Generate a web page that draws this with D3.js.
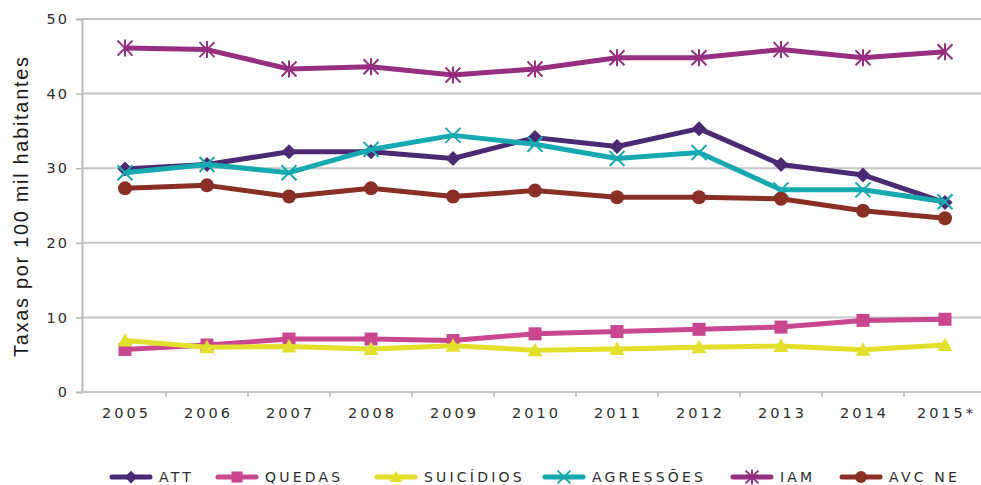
<!DOCTYPE html>
<html>
<head>
<meta charset="utf-8">
<script src="https://cdn.jsdelivr.net/npm/d3@7"></script>
<style>
  html, body { margin: 0; padding: 0; background: #fff; }
  svg { display: block; }
  .tick text, .legend text { font-family: "DejaVu Sans", sans-serif; fill: #2e2e2e; }
</style>
</head>
<body>
<svg id="chart" width="981" height="485"></svg>
<script>
// Anos e séries (taxas por 100 mil habitantes)
const years = ["2005","2006","2007","2008","2009","2010","2011","2012","2013","2014","2015*"];
const yTicks = [0, 10, 20, 30, 40, 50];

const att       = [29.9, 30.5, 32.2, 32.2, 31.3, 34.1, 32.9, 35.3, 30.5, 29.1, 25.4];
const quedas    = [5.7, 6.3, 7.1, 7.1, 6.9, 7.8, 8.1, 8.4, 8.7, 9.6, 9.75];
const suicidios = [6.9, 6.0, 6.1, 5.75, 6.2, 5.6, 5.75, 6.0, 6.15, 5.65, 6.3];
const agressoes = [29.4, 30.5, 29.4, 32.5, 34.4, 33.2, 31.3, 32.1, 27.1, 27.1, 25.5];
const iam       = [46.1, 45.9, 43.3, 43.6, 42.5, 43.3, 44.8, 44.8, 45.9, 44.8, 45.6];
const avcne     = [27.3, 27.7, 26.2, 27.3, 26.2, 27.0, 26.1, 26.1, 25.9, 24.3, 23.3];

const series = [
  { name: "ATT",        values: att,       color: "#4b2a73", marker: "diamond" },
  { name: "QUEDAS",     values: quedas,    color: "#c9478f", marker: "square" },
  { name: "SUICÍDIOS",  values: suicidios, color: "#e2e02c", marker: "triangle" },
  { name: "AGRESSÕES",  values: agressoes, color: "#16a9b0", marker: "x" },
  { name: "IAM",        values: iam,       color: "#962f80", marker: "star" },
  { name: "AVC NE",     values: avcne,     color: "#8a2f25", marker: "circle" }
];

const svg = d3.select("#chart");
const x = d3.scaleBand().domain(years).range([84, 986]).padding(0);
const y = d3.scaleLinear().domain([0, 50]).range([392, 19]);
const cx = d => x(d) + x.bandwidth() / 2;

// Grelha horizontal
svg.append("g")
  .selectAll("line")
  .data(yTicks.filter(t => t > 0))
  .join("line")
  .attr("x1", 82).attr("x2", 981)
  .attr("y1", d => y(d)).attr("y2", d => y(d))
  .attr("stroke", "#c6c6c6").attr("stroke-width", 2);

// Eixo Y
const yAxis = svg.append("g")
  .attr("transform", "translate(82,0)")
  .call(d3.axisLeft(y).tickValues(yTicks).tickSize(6).tickPadding(7));
yAxis.select(".domain").attr("stroke", "#b9b9b9").attr("stroke-width", 2);
yAxis.selectAll(".tick line").attr("stroke", "#b9b9b9").attr("stroke-width", 1.5);
yAxis.selectAll(".tick text").attr("font-size", 14.5).attr("letter-spacing", 2);

// Eixo X
const xAxis = svg.append("g")
  .attr("transform", "translate(0,392)")
  .call(d3.axisBottom(x).tickSize(0).tickPadding(16));
xAxis.select(".domain").attr("stroke", "#c6c6c6").attr("stroke-width", 2).attr("d", "M82,0H981");
xAxis.selectAll(".tick text").attr("font-size", 14.5).attr("letter-spacing", 3).attr("dx", 1.5);
svg.append("g")
  .selectAll("line")
  .data(years.slice(1))
  .join("line")
  .attr("x1", d => x(d)).attr("x2", d => x(d))
  .attr("y1", 392).attr("y2", 397)
  .attr("stroke", "#b9b9b9").attr("stroke-width", 1.5);

// Título do eixo Y
svg.append("text")
  .attr("transform", "translate(28,207) rotate(-90)")
  .attr("text-anchor", "middle")
  .attr("font-family", "Liberation Sans, Arial, sans-serif")
  .attr("font-size", 20)
  .attr("fill", "#1a1a1a")
  .attr("textLength", 300)
  .attr("lengthAdjust", "spacing")
  .text("Taxas por 100 mil habitantes");

// Marcadores
function drawMarker(g, type, color, px, py, scale = 1) {
  const r = 7.5 * scale;
  if (type === "diamond") {
    g.append("path").attr("d", `M${px},${py - r}L${px + r},${py}L${px},${py + r}L${px - r},${py}Z`).attr("fill", color);
  } else if (type === "square") {
    const s = 6.5 * scale;
    g.append("rect").attr("x", px - s).attr("y", py - s).attr("width", 2 * s).attr("height", 2 * s).attr("fill", color);
  } else if (type === "triangle") {
    const s = 7.5 * scale;
    g.append("path").attr("d", `M${px},${py - s}L${px + s},${py + s * 0.8}L${px - s},${py + s * 0.8}Z`).attr("fill", color);
  } else if (type === "circle") {
    g.append("circle").attr("cx", px).attr("cy", py).attr("r", 7 * scale).attr("fill", color);
  } else if (type === "x" || type === "star") {
    const s = 7.5 * scale;
    let d = `M${px - s},${py - s}L${px + s},${py + s}M${px - s},${py + s}L${px + s},${py - s}`;
    if (type === "star") d += `M${px},${py - s - 1}L${px},${py + s + 1}`;
    g.append("path").attr("d", d).attr("stroke", color).attr("stroke-width", 2).attr("fill", "none");
  }
}

const line = d3.line().x((d, i) => cx(years[i])).y(d => y(d));

series.forEach(s => {
  const g = svg.append("g");
  g.append("path")
    .attr("d", line(s.values))
    .attr("fill", "none")
    .attr("stroke", s.color)
    .attr("stroke-width", 5)
    .attr("stroke-linejoin", "round");
  s.values.forEach((v, i) => drawMarker(g, s.marker, s.color, cx(years[i]), y(v)));
});

// Legenda
const legendPos = [112, 218, 377, 545, 733, 842];
const legend = svg.append("g").attr("class", "legend");
series.forEach((s, i) => {
  const lx = legendPos[i];
  const ly = 477;
  const g = legend.append("g");
  g.append("line").attr("x1", lx).attr("x2", lx + 38).attr("y1", ly).attr("y2", ly)
    .attr("stroke", s.color).attr("stroke-width", 5).attr("stroke-linecap", "round");
  drawMarker(g, s.marker, s.color, lx + 19, ly, 0.85);
  g.append("text").attr("x", lx + 47).attr("y", ly + 5)
    .attr("font-size", 14).attr("letter-spacing", 3.2)
    .text(s.name);
});
</script>
</body>
</html>
